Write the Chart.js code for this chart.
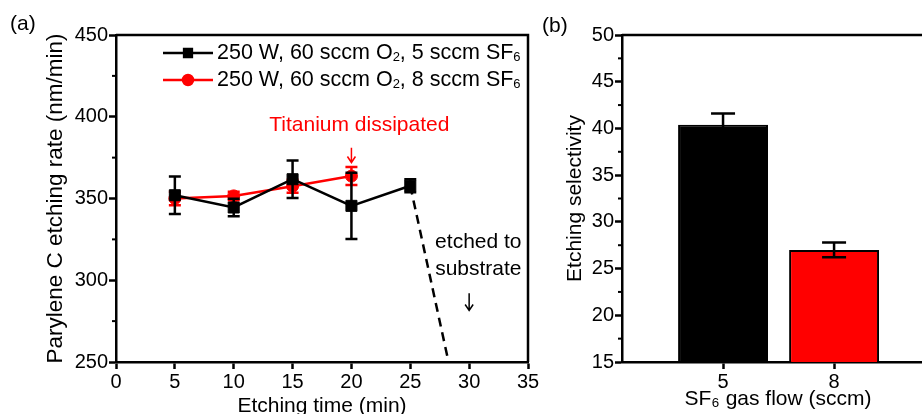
<!DOCTYPE html>
<html>
<head>
<meta charset="utf-8">
<script src="https://cdn.jsdelivr.net/npm/chart.js@4.4.1/dist/chart.umd.min.js"></script>
<style>
  html, body { margin: 0; padding: 0; background: #fff; overflow: hidden; }
  #wrap { position: relative; width: 922px; height: 414px; overflow: hidden; }
  .panel { position: absolute; top: 0; height: 414px; }
  #boxA { left: 0; width: 560px; }
  #boxB { left: 560px; width: 380px; }
  .tag { position: absolute; font: 21px "Liberation Sans", Arial, sans-serif; color: #000; line-height: 24px; }
</style>
</head>
<body>
<div id="wrap">
  <div class="panel" id="boxA"><canvas id="rateChart"></canvas></div>
  <div class="panel" id="boxB"><canvas id="selChart"></canvas></div>
  <div class="tag" style="left:10px;top:11px">(a)</div>
  <div class="tag" style="left:542px;top:13px">(b)</div>
</div>
<script>
// ---- data (a): etching rate vs time ----
const time5 = [5, 10, 15, 20, 25];
const rate5 = [352, 344.5, 361.8, 345.5, 357.8];
const err5 = [11.5, 5.3, 11.5, 20.3, 4];
const time8 = [5, 10, 15, 20];
const rate8 = [350, 351.6, 357.5, 363.7];
const err8 = [4.2, 2.6, 4, 5.5];
const dropTime = [25, 28.25];
const dropRate = [357.8, 250];

// ---- data (b): selectivity vs SF6 flow ----
const flowLabels = ["5", "8"];
const selectivity = [40.4, 27.0];
const selErr = [1.2, 0.8];

const FONT = '"Liberation Sans", Arial, sans-serif';
const BLACK = "#000000";
const RED = "#ff0000";

Chart.defaults.font.family = FONT;
Chart.defaults.color = BLACK;

// draws text, rendering ₀-₉ as small lowered digits
function drawRich(ctx, text, x, y, size) {
  const parts = [];
  for (const ch of text) {
    const code = ch.charCodeAt(0);
    const sub = code >= 0x2080 && code <= 0x2089;
    const c = sub ? String.fromCharCode(code - 0x2080 + 48) : ch;
    const last = parts[parts.length - 1];
    if (last && last.sub === sub) last.t += c;
    else parts.push({ t: c, sub: sub });
  }
  ctx.textBaseline = "middle";
  ctx.textAlign = "left";
  let cx = x;
  parts.forEach((p) => {
    ctx.font = (p.sub ? Math.round(size * 0.62) : size) + "px " + FONT;
    ctx.fillText(p.t, cx, p.sub ? y + size * 0.22 : y);
    cx += ctx.measureText(p.t).width;
  });
}

// ==================== PLUGINS ====================

const errorBars = {
  id: "errorBars",
  afterDatasetDraw(chart, args) {
    const ds = chart.data.datasets[args.index];
    if (!ds.errors) return;
    const meta = args.meta;
    const yScale = chart.scales[meta.yAxisID];
    const ctx = chart.ctx;
    ctx.save();
    ctx.strokeStyle = ds.errorColor || ds.borderColor;
    ctx.lineWidth = 2.5;
    meta.data.forEach((el, j) => {
      const v = ds.data[j].y;
      const e = ds.errors[j];
      const top = yScale.getPixelForValue(v + e);
      const bot = yScale.getPixelForValue(v - e);
      const cap = ds.capHalf || 6;
      ctx.beginPath();
      ctx.moveTo(el.x, top);
      ctx.lineTo(el.x, bot);
      ctx.moveTo(el.x - cap, top);
      ctx.lineTo(el.x + cap, top);
      ctx.moveTo(el.x - cap, bot);
      ctx.lineTo(el.x + cap, bot);
      ctx.stroke();
    });
    ctx.restore();
  },
};

const frame = {
  id: "frame",
  afterDraw(chart) {
    const { ctx, chartArea: a } = chart;
    ctx.save();
    ctx.strokeStyle = BLACK;
    ctx.lineWidth = 2.5;
    ctx.beginPath();
    ctx.moveTo(a.left, a.top);
    ctx.lineTo(a.right, a.top);
    ctx.lineTo(a.right, a.bottom);
    ctx.stroke();
    ctx.restore();
  },
};

const minorTicks = {
  id: "minorTicks",
  afterDraw(chart, args, opts) {
    if (!opts.step) return;
    const s = chart.scales.y;
    const ctx = chart.ctx;
    ctx.save();
    ctx.strokeStyle = BLACK;
    ctx.lineWidth = 2;
    for (let k = 1; s.min + k * opts.step < s.max; k += 2) {
      const py = s.getPixelForValue(s.min + k * opts.step);
      ctx.beginPath();
      ctx.moveTo(s.right, py);
      ctx.lineTo(s.right - 4, py);
      ctx.stroke();
    }
    ctx.restore();
  },
};

const insideLegend = {
  id: "insideLegend",
  afterDraw(chart, args, opts) {
    if (!opts.display) return;
    const { ctx, chartArea: a } = chart;
    let row = 0;
    chart.data.datasets.forEach((ds) => {
      if (!ds.label) return;
      const x0 = a.left + 47;
      const y = a.top + 18 + row * 27;
      ctx.save();
      ctx.strokeStyle = ds.borderColor;
      ctx.fillStyle = ds.borderColor;
      ctx.lineWidth = 2.5;
      ctx.beginPath();
      ctx.moveTo(x0, y);
      ctx.lineTo(x0 + 50, y);
      ctx.stroke();
      Chart.helpers.drawPoint(ctx, {
        pointStyle: ds.pointStyle,
        radius: ds.pointStyle === "rect" ? 5.5 : 5,
        borderWidth: 1,
        rotation: 0,
      }, x0 + 25, y);
      ctx.fillStyle = BLACK;
      drawRich(ctx, ds.label, x0 + 54, y, 21.5);
      ctx.restore();
      row++;
    });
  },
};

const notes = {
  id: "notes",
  afterDraw(chart, args, opts) {
    const { ctx, scales } = chart;
    (opts.texts || []).forEach((n) => {
      ctx.save();
      ctx.fillStyle = n.color;
      ctx.font = "21px " + FONT;
      ctx.textAlign = "center";
      ctx.textBaseline = "middle";
      ctx.fillText(n.text, scales.x.getPixelForValue(n.x), scales.y.getPixelForValue(n.y));
      ctx.restore();
    });
    (opts.arrows || []).forEach((ar) => {
      const x = scales.x.getPixelForValue(ar.x);
      const y1 = scales.y.getPixelForValue(ar.from);
      const y2 = scales.y.getPixelForValue(ar.to);
      ctx.save();
      ctx.strokeStyle = ar.color;
      ctx.lineWidth = 1.5;
      ctx.beginPath();
      ctx.moveTo(x, y1);
      ctx.lineTo(x, y2);
      ctx.moveTo(x - 4, y2 - 6);
      ctx.lineTo(x, y2);
      ctx.lineTo(x + 4, y2 - 6);
      ctx.stroke();
      ctx.restore();
    });
  },
};

// shared axis styling
function axisBase() {
  return {
    grid: { drawOnChartArea: false, tickLength: 7, tickWidth: 2.5, tickColor: BLACK, offset: false },
    border: { width: 2.5, color: BLACK },
    ticks: { color: BLACK, font: { size: 20 }, padding: 1 },
  };
}

// ==================== CHART (a) ====================

const ax = axisBase();
const ay = axisBase();

new Chart(document.getElementById("rateChart"), {
  type: "line",
  data: {
    datasets: [
      {
        label: "250 W, 60 sccm O₂, 5 sccm SF₆",
        data: time5.map((t, i) => ({ x: t, y: rate5[i] })),
        errors: err5,
        borderColor: BLACK,
        backgroundColor: BLACK,
        borderWidth: 2.5,
        pointStyle: "rect",
        pointRadius: 7.8,
        pointBorderWidth: 1,
        tension: 0,
      },
      {
        label: "250 W, 60 sccm O₂, 8 sccm SF₆",
        data: time8.map((t, i) => ({ x: t, y: rate8[i] })),
        errors: err8,
        borderColor: RED,
        backgroundColor: RED,
        borderWidth: 2.5,
        pointStyle: "circle",
        pointRadius: 6,
        pointBorderWidth: 1,
        tension: 0,
      },
      {
        data: dropTime.map((t, i) => ({ x: t, y: dropRate[i] })),
        borderColor: BLACK,
        borderWidth: 2.5,
        borderDash: [9, 6],
        pointRadius: 0,
      },
    ],
  },
  options: {
    responsive: true,
    maintainAspectRatio: false,
    animation: false,
    events: [],
    layout: { padding: { left: 0, top: 35, right: 32, bottom: 0 } },
    scales: {
      x: {
        ...ax,
        type: "linear",
        min: 0,
        max: 35,
        ticks: { ...ax.ticks, stepSize: 5 },
        title: { display: true, text: "Etching time (min)", font: { size: 21, lineHeight: 1 }, padding: { top: 0, bottom: -3 }, color: BLACK },
        afterFit(s) { s.height = 52; },
      },
      y: {
        ...ay,
        min: 250,
        max: 450,
        ticks: { ...ay.ticks, stepSize: 50 },
        title: { display: true, text: "Parylene C etching rate (nm/min)", font: { size: 22.5 }, padding: { top: 42, bottom: 0 }, color: BLACK },
        afterFit(s) { s.width = 116; },
      },
    },
    plugins: {
      legend: { display: false },
      tooltip: { enabled: false },
      insideLegend: { display: true },
      minorTicks: { step: 25 },
      notes: {
        texts: [
          { text: "Titanium dissipated", x: 20.67, y: 395, color: RED },
          { text: "etched to", x: 30.78, y: 323, color: BLACK },
          { text: "substrate", x: 30.78, y: 307, color: BLACK },
        ],
        arrows: [
          { x: 20, from: 381, to: 372, color: RED },
          { x: 30, from: 292, to: 281.5, color: BLACK },
        ],
      },
    },
  },
  plugins: [errorBars, frame, minorTicks, insideLegend, notes],
});

// ==================== CHART (b) ====================

const bx = axisBase();
const by = axisBase();

new Chart(document.getElementById("selChart"), {
  type: "bar",
  data: {
    datasets: [
      {
        data: flowLabels.map((f, i) => ({ x: i + 1, y: selectivity[i] })),
        errors: selErr,
        errorColor: BLACK,
        capHalf: 12,
        backgroundColor: [BLACK, RED],
        borderColor: BLACK,
        borderWidth: 2,
        barPercentage: 0.81,
        categoryPercentage: 1,
      },
    ],
  },
  options: {
    responsive: true,
    maintainAspectRatio: false,
    animation: false,
    events: [],
    layout: { padding: { left: 0, top: 35, right: 6, bottom: 0 } },
    scales: {
      x: {
        ...bx,
        type: "linear",
        offset: false,
        min: 0.09,
        max: 2.9,
        afterBuildTicks(s) { s.ticks = flowLabels.map((f, i) => ({ value: i + 1 })); },
        ticks: { ...bx.ticks, callback: (v) => flowLabels[v - 1] },
        title: { display: true, text: "SF₆ gas flow (sccm)", font: { size: 21, lineHeight: 1 }, padding: { top: 0, bottom: 4 }, color: BLACK },
        afterFit(s) { s.height = 52; },
      },
      y: {
        ...by,
        min: 15,
        max: 50,
        ticks: { ...by.ticks, stepSize: 5 },
        title: { display: true, text: "Etching selectivity", font: { size: 21 }, padding: { top: 3, bottom: 0 }, color: BLACK },
        afterFit(s) { s.width = 62; },
      },
    },
    plugins: {
      legend: { display: false },
      tooltip: { enabled: false },
      minorTicks: { step: 2.5 },
    },
  },
  plugins: [errorBars, frame, minorTicks],
});
</script>
</body>
</html>
